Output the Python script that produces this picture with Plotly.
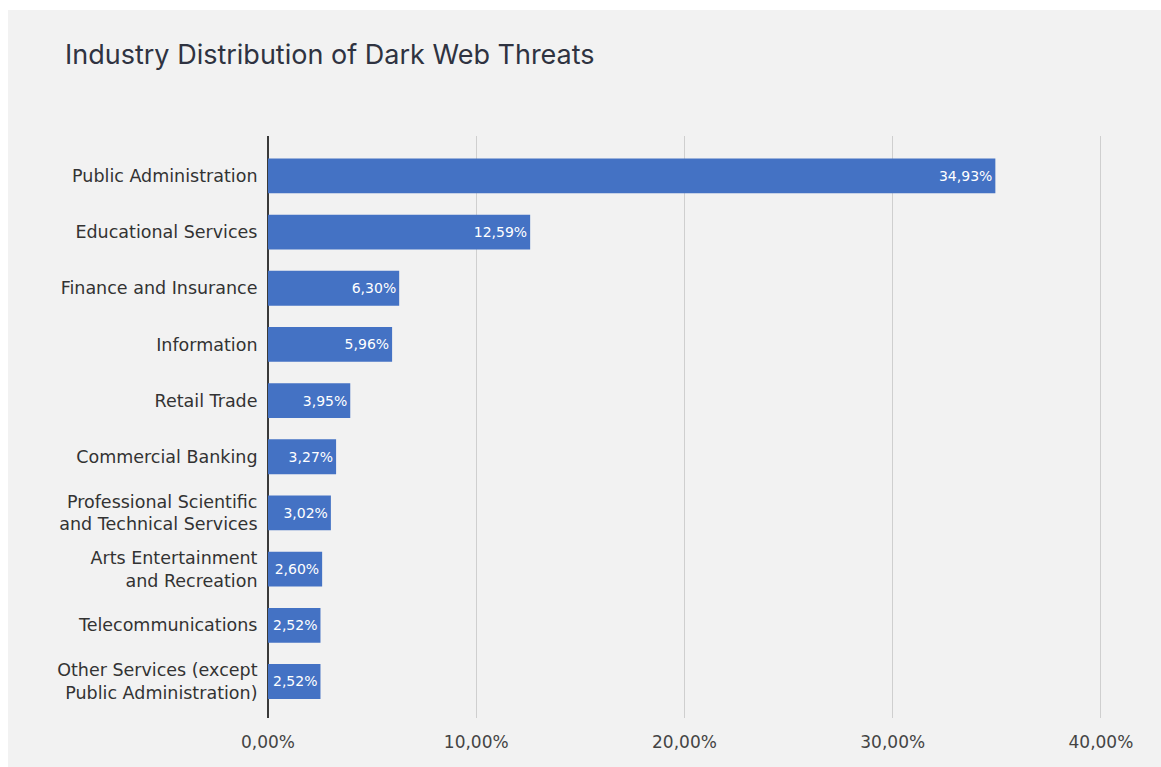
import plotly.graph_objects as go

categories = [
    "Public Administration",
    "Educational Services",
    "Finance and Insurance",
    "Information",
    "Retail Trade",
    "Commercial Banking",
    "Professional Scientific<br>and Technical Services",
    "Arts Entertainment<br>and Recreation",
    "Telecommunications",
    "Other Services (except<br>Public Administration)",
]
values = [34.93, 12.59, 6.30, 5.96, 3.95, 3.27, 3.02, 2.60, 2.52, 2.52]
tick_vals = [0, 10, 20, 30, 40]
tick_text = ["0,00%", "10,00%", "20,00%", "30,00%", "40,00%"]
labels = [f"{v:.2f}".replace(".", ",") + "%" for v in values]

W, H = 1161, 767
ML, MR, MT, MB = 268, 58, 136, 49

fig = go.Figure(go.Bar(
    x=values,
    y=categories,
    orientation="h",
    marker=dict(color="#4472C4", line=dict(width=0)),
    text=labels,
    textposition="inside",
    insidetextanchor="end",
    textfont=dict(color="white", size=14, family="DejaVu Sans"),
    width=0.62,
))

pw = W - ML - MR
ph = H - MT - MB
x0 = (8 - ML) / pw
x1 = (W + 5 - ML) / pw
y1 = (H - MB - 10) / ph
y0 = (H - MB - (H + 5)) / ph

fig.update_layout(
    width=W, height=H,
    margin=dict(l=ML, r=MR, t=MT, b=MB),
    paper_bgcolor="white",
    plot_bgcolor="rgba(0,0,0,0)",
    showlegend=False,
    title=dict(
        text="Industry Distribution of Dark Web Threats",
        x=65 / W, xanchor="left", y=1 - 55 / H, yanchor="middle",
        font=dict(family="Inter", size=27, color="#2f3341"),
    ),
    shapes=[dict(
        type="rect", xref="paper", yref="paper",
        x0=x0, x1=x1, y0=y0, y1=y1,
        fillcolor="#f2f2f2", line=dict(width=0), layer="below",
    )],
    xaxis=dict(
        range=[0, 40.1],
        tickvals=tick_vals, ticktext=tick_text,
        showgrid=True, gridcolor="#cfcfcf", gridwidth=1,
        zeroline=True, zerolinecolor="#3a3a3a", zerolinewidth=1.5,
        ticks="outside", ticklen=9, tickcolor="rgba(0,0,0,0)",
        tickfont=dict(family="DejaVu Sans", size=17, color="#444444"),
        showline=False,
    ),
    yaxis=dict(
        range=[9.65, -0.71],
        showgrid=False, zeroline=False,
        ticks="outside", ticklen=6, tickcolor="rgba(0,0,0,0)",
        tickfont=dict(family="DejaVu Sans", size=17.5, color="#333333"),
        showline=False,
    ),
)

fig.write_html(
    "out.html",
    config={"displayModeBar": False},
    post_script="document.body.style.margin='0';document.body.style.overflow='hidden';",
)
